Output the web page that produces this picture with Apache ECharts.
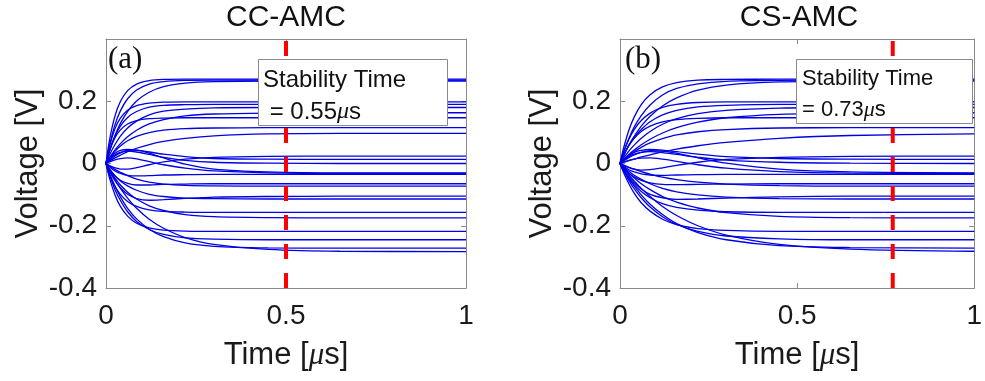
<!DOCTYPE html>
<html><head><meta charset="utf-8">
<script src="https://cdn.jsdelivr.net/npm/echarts@6/dist/echarts.min.js"></script>
<style>html,body{margin:0;padding:0;background:#fff}#c{width:985px;height:381px}</style>
</head><body><div id="c"></div>
<script>
// ---- data ----
const times = [0, 0.01, 0.025, 0.04, 0.06, 0.085, 0.12, 0.16, 0.22, 0.3, 0.45, 0.65, 1.0];
const voltagesCC = [
  [0, .077, .153, .199, .234, .255, .266, .270, .271, .271, .271, .271, .271],
  [0, .041, .090, .129, .167, .201, .229, .247, .258, .263, .265, .265, .265],
  [0, .059, .125, .169, .208, .236, .255, .263, .267, .268, .268, .268, .268],
  [0, .056, .112, .146, .171, .186, .194, .197, .198, .198, .198, .198, .198],
  [0, .042, .088, .120, .148, .167, .181, .187, .189, .190, .190, .190, .190],
  [0, .028, .061, .088, .114, .136, .156, .168, .175, .179, .180, .180, .180],
  [0, .019, .044, .064, .086, .107, .127, .141, .153, .159, .162, .163, .163],
  [0, .042, .083, .108, .127, .138, .144, .146, .147, .147, .147, .147, .147],
  [0, .018, .039, .056, .073, .087, .099, .107, .112, .114, .115, .115, .115],
  [0, .008, .018, .027, .038, .049, .061, .071, .081, .089, .095, .097, .097],
  [0, -.007, -.014, -.018, -.018, -.013, -.004, .005, .014, .020, .023, .024, .024],
  [0, .016, .033, .042, .045, .043, .037, .030, .022, .016, .014, .013, .013],
  [0, .013, .028, .036, .040, .037, .029, .020, .010, .004, .001, 0, 0],
  [0, .010, .024, .034, .042, .043, .033, .018, -.002, -.018, -.027, -.030, -.030],
  [0, -.011, -.024, -.032, -.038, -.040, -.039, -.037, -.036, -.035, -.035, -.035, -.035],
  [0, .005, .012, .016, .018, .015, .006, -.004, -.015, -.024, -.030, -.032, -.032],
  [0, -.018, -.040, -.054, -.064, -.069, -.069, -.067, -.066, -.065, -.065, -.065, -.065],
  [0, -.008, -.019, -.028, -.039, -.050, -.060, -.066, -.070, -.072, -.073, -.073, -.073],
  [0, -.025, -.055, -.078, -.099, -.113, -.118, -.116, -.112, -.108, -.106, -.105, -.105],
  [0, -.018, -.039, -.056, -.072, -.086, -.099, -.106, -.111, -.113, -.114, -.114, -.114],
  [0, -.035, -.073, -.099, -.122, -.138, -.149, -.154, -.156, -.157, -.157, -.157, -.157],
  [0, -.021, -.047, -.069, -.092, -.114, -.136, -.151, -.164, -.171, -.174, -.175, -.175],
  [0, -.048, -.101, -.138, -.169, -.192, -.207, -.214, -.217, -.218, -.218, -.218, -.218],
  [0, -.038, -.084, -.119, -.155, -.186, -.212, -.228, -.239, -.243, -.245, -.245, -.245],
  [0, -.032, -.073, -.107, -.144, -.178, -.211, -.235, -.255, -.266, -.271, -.272, -.272],
  [0, -.023, -.053, -.080, -.111, -.144, -.179, -.208, -.238, -.260, -.276, -.282, -.283]
];
const voltagesCS = [
  [0, .049, .107, .149, .189, .221, .246, .260, .268, .270, .271, .271, .271],
  [0, .025, .059, .087, .120, .152, .185, .211, .236, .252, .262, .264, .265],
  [0, .036, .080, .117, .154, .188, .220, .241, .256, .264, .267, .268, .268],
  [0, .036, .078, .109, .138, .162, .180, .190, .196, .198, .198, .198, .198],
  [0, .025, .057, .083, .109, .134, .156, .171, .182, .187, .190, .190, .190],
  [0, .017, .040, .059, .081, .103, .126, .144, .160, .171, .178, .180, .180],
  [0, .012, .029, .043, .060, .078, .098, .115, .133, .147, .158, .162, .163],
  [0, .027, .058, .081, .103, .120, .134, .141, .145, .147, .147, .147, .147],
  [0, .011, .025, .038, .052, .066, .080, .092, .102, .109, .114, .115, .115],
  [0, .004, .009, .014, .021, .028, .037, .046, .057, .068, .081, .090, .095],
  [0, -.006, -.013, -.018, -.021, -.020, -.014, -.006, .004, .013, .020, .023, .024],
  [0, .013, .027, .036, .042, .045, .043, .038, .030, .022, .016, .014, .013],
  [0, .010, .022, .030, .036, .038, .035, .029, .020, .011, .004, .001, 0],
  [0, .008, .019, .028, .036, .041, .040, .033, .018, .001, -.018, -.027, -.030],
  [0, -.009, -.020, -.027, -.033, -.037, -.038, -.037, -.036, -.035, -.035, -.035, -.035],
  [0, .004, .010, .014, .017, .018, .014, .007, -.004, -.015, -.026, -.031, -.032],
  [0, -.014, -.031, -.043, -.054, -.062, -.067, -.068, -.067, -.066, -.065, -.065, -.065],
  [0, -.005, -.012, -.018, -.026, -.034, -.044, -.052, -.060, -.066, -.071, -.073, -.073],
  [0, -.019, -.043, -.062, -.082, -.099, -.110, -.115, -.114, -.111, -.107, -.105, -.105],
  [0, -.011, -.025, -.038, -.051, -.065, -.080, -.091, -.101, -.108, -.113, -.114, -.114],
  [0, -.021, -.047, -.068, -.090, -.110, -.129, -.141, -.150, -.155, -.157, -.157, -.157],
  [0, -.013, -.031, -.046, -.065, -.084, -.106, -.124, -.143, -.158, -.170, -.174, -.175],
  [0, -.029, -.065, -.095, -.126, -.153, -.179, -.196, -.209, -.215, -.218, -.218, -.218],
  [0, -.023, -.054, -.081, -.110, -.140, -.171, -.196, -.218, -.233, -.242, -.245, -.245],
  [0, -.020, -.048, -.072, -.101, -.131, -.164, -.193, -.222, -.245, -.264, -.270, -.272],
  [0, -.015, -.037, -.056, -.080, -.106, -.138, -.167, -.200, -.230, -.260, -.275, -.282]
];
const stabilityMarkers = [0.5, 0.77];
const panelTitles = ['CC-AMC', 'CS-AMC'];
const panelTags = ['(a)', '(b)'];
const stabilityValues = [' = 0.55', '= 0.73'];
const xTickValues = [0, 0.5, 1];
const yTickValues = [-0.4, -0.2, 0, 0.2, 0.4];
const yLabelShown = [-0.4, -0.2, 0, 0.2];

// ---- chart ----
const chart = echarts.init(document.getElementById('c'), null, {renderer: 'canvas'});
const FONT = 'Liberation Sans, Arial, sans-serif';
const SERIF = 'Liberation Serif, serif';
const AX = '#8a8a8a';
const INK = '#1a1a1a';
const grids = [
  {left: 106, right: 519, top: 39, bottom: 93},
  {left: 620, right: 7, top: 39, bottom: 93}
];
const xAxes = [], yAxes = [];
const tickStyle = {show: true, inside: true, length: 5, lineStyle: {color: AX}};
const lineStyleAx = {show: true, onZero: false, lineStyle: {color: AX, width: 1}};
grids.forEach((g, gi) => {
  const xBase = {gridIndex: gi, type: 'value', min: xTickValues[0], max: xTickValues[xTickValues.length - 1],
    interval: xTickValues[1] - xTickValues[0], axisLine: lineStyleAx, axisTick: tickStyle, splitLine: {show: false}};
  xAxes.push(Object.assign({}, xBase, {
    position: 'bottom',
    axisLabel: {fontSize: 28, fontFamily: FONT, color: INK, margin: 14, formatter: v => String(+v.toFixed(2))},
    name: 'Time [{mu|μ}s]', nameLocation: 'middle', nameGap: 52,
    nameTextStyle: {fontSize: 31, fontFamily: FONT, color: INK,
      rich: {mu: {fontSize: 31, fontFamily: SERIF, fontStyle: 'italic', color: INK}}}
  }));
  xAxes.push(Object.assign({}, xBase, {position: 'top', axisLabel: {show: false}}));
  const yBase = {gridIndex: gi, type: 'value', min: yTickValues[0], max: yTickValues[yTickValues.length - 1],
    interval: 0.2, axisLine: lineStyleAx, axisTick: tickStyle, splitLine: {show: false}};
  yAxes.push(Object.assign({}, yBase, {
    position: 'left',
    axisLabel: {fontSize: 28, fontFamily: FONT, color: INK, margin: 9,
      formatter: v => yLabelShown.some(s => Math.abs(s - v) < 1e-6) ? String(+v.toFixed(2)) : ''},
    name: 'Voltage [V]', nameLocation: 'middle', nameGap: 62,
    nameTextStyle: {fontSize: 31, fontFamily: FONT, color: INK}
  }));
  yAxes.push(Object.assign({}, yBase, {position: 'right', axisLabel: {show: false}}));
});

const series = [];
[voltagesCC, voltagesCS].forEach((set, gi) => {
  set.forEach(vals => {
    series.push({
      type: 'line', xAxisIndex: gi * 2, yAxisIndex: gi * 2,
      data: times.map((t, i) => [t, vals[i]]),
      showSymbol: false, symbol: 'none', smooth: 0.3,
      lineStyle: {color: '#0000e6', width: 1.3}, silent: true, z: 2
    });
  });
  series.push({
    type: 'line', xAxisIndex: gi * 2, yAxisIndex: gi * 2,
    data: [[stabilityMarkers[gi], yTickValues[0]], [stabilityMarkers[gi], yTickValues[yTickValues.length - 1]]],
    showSymbol: false, symbol: 'none',
    lineStyle: {color: '#ff0000', width: 4, type: [15, 14]}, silent: true, z: 3
  });
});

const graphic = [
  {type: 'text', x: 286, y: 18, z: 100, style: {text: panelTitles[0], fontSize: 30, fontFamily: FONT, fill: '#111', align: 'center', verticalAlign: 'middle'}},
  {type: 'text', x: 799, y: 18, z: 100, style: {text: panelTitles[1], fontSize: 30, fontFamily: FONT, fill: '#111', align: 'center', verticalAlign: 'middle'}},
  {type: 'text', x: 108, y: 60, z: 100, style: {text: panelTags[0], fontSize: 31, fontFamily: SERIF, fill: '#111', align: 'left', verticalAlign: 'middle'}},
  {type: 'text', x: 625, y: 60, z: 100, style: {text: panelTags[1], fontSize: 31, fontFamily: SERIF, fill: '#111', align: 'left', verticalAlign: 'middle'}},
  {type: 'rect', shape: {x: 258.5, y: 59.5, width: 189, height: 66}, z: 90, style: {fill: '#fff', stroke: '#8a8a8a', lineWidth: 1}},
  {type: 'rect', shape: {x: 796.5, y: 59.5, width: 176, height: 64}, z: 90, style: {fill: '#fff', stroke: '#8a8a8a', lineWidth: 1}},
  {type: 'text', x: 263, y: 80, z: 100, style: {text: 'Stability Time', fontSize: 24, fontFamily: FONT, fill: '#111', verticalAlign: 'middle'}},
  {type: 'text', x: 263, y: 112, z: 100, style: {text: stabilityValues[0] + '{mu|μ}s', fontSize: 24, fontFamily: FONT, fill: '#111', verticalAlign: 'middle',
    rich: {mu: {fontSize: 24, fontFamily: SERIF, fontStyle: 'italic', fill: '#111'}}}},
  {type: 'text', x: 802, y: 79, z: 100, style: {text: 'Stability Time', fontSize: 22, fontFamily: FONT, fill: '#111', verticalAlign: 'middle'}},
  {type: 'text', x: 802, y: 110, z: 100, style: {text: stabilityValues[1] + '{mu|μ}s', fontSize: 22, fontFamily: FONT, fill: '#111', verticalAlign: 'middle',
    rich: {mu: {fontSize: 22, fontFamily: SERIF, fontStyle: 'italic', fill: '#111'}}}}
];

chart.setOption({
  animation: false,
  backgroundColor: '#fff',
  grid: grids,
  xAxis: xAxes,
  yAxis: yAxes,
  series: series,
  graphic: graphic
});
</script>
</body></html>
